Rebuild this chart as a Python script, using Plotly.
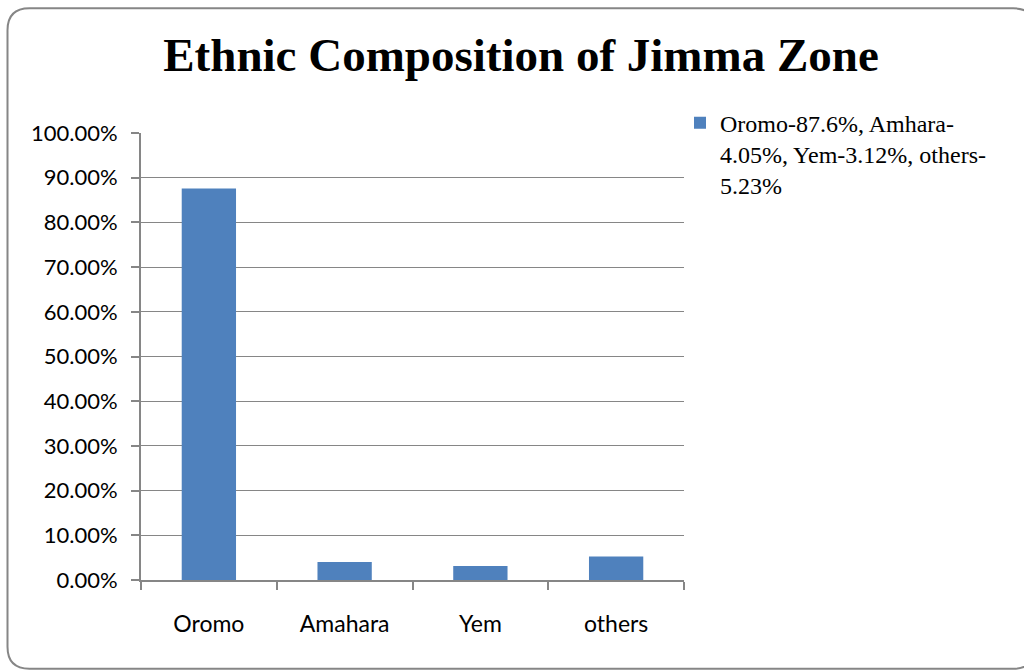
import plotly.graph_objects as go

categories = ["Oromo", "Amahara", "Yem", "others"]
values = [0.876, 0.0405, 0.0312, 0.0523]
series_name = "Oromo-87.6%, Amhara-<br>4.05%, Yem-3.12%, others-<br>5.23%"
title_text = "Ethnic Composition of Jimma Zone"
y_ticks = [i / 10 for i in range(11)]

W, H = 1024, 671
L, R, T, B = 141, 684, 132.5, 580.5
pw, ph = R - L, B - T

def px(x):
    return (x - L) / pw

def py(y):
    return (B - y) / ph

fig = go.Figure()
fig.add_trace(go.Bar(
    x=categories, y=values, name=series_name,
    marker=dict(color="#4F81BD", line=dict(width=0)),
    showlegend=True,
))

# rounded chart border
x0, y0, x1, y1, r = 7.5, 7.5, 1035, 669.5, 22
path = (
    f"M {px(x0)},{py(y0 + r)} Q {px(x0)},{py(y0)} {px(x0 + r)},{py(y0)} "
    f"L {px(x1 - r)},{py(y0)} Q {px(x1)},{py(y0)} {px(x1)},{py(y0 + r)} "
    f"L {px(x1)},{py(y1 - r)} Q {px(x1)},{py(y1)} {px(x1 - r)},{py(y1)} "
    f"L {px(x0 + r)},{py(y1)} Q {px(x0)},{py(y1)} {px(x0)},{py(y1 - r)} Z"
)
fig.add_shape(type="path", path=path, xref="paper", yref="paper",
              line=dict(color="#868686", width=2), layer="above")

fig.update_layout(
    width=W, height=H,
    margin=dict(l=L, r=W - R, t=T, b=H - B, pad=0),
    paper_bgcolor="white", plot_bgcolor="white",
    bargap=0.6,
    title=dict(text=f"<b>{title_text}</b>", x=521 / W, xanchor="center",
               y=1 - 55 / H, yanchor="middle", yref="container",
               font=dict(family="Liberation Serif", size=47, color="black")),
    legend=dict(x=px(680), y=py(100), xanchor="left", yanchor="top",
                valign="top", bgcolor="rgba(0,0,0,0)",
                font=dict(family="Liberation Serif", size=24, color="black"),
                itemwidth=30, tracegroupgap=0),
    xaxis=dict(showline=True, linecolor="#868686", linewidth=2,
               ticks="outside", tickson="boundaries", ticklen=8,
               tickcolor="#868686", tickwidth=2, showgrid=False,
               ticklabelstandoff=22,
               tickfont=dict(family="Lato", size=23, color="black")),
    yaxis=dict(range=[0, 1], tickvals=y_ticks, tickformat=".2%",
               showline=True, linecolor="#868686", linewidth=2,
               ticks="outside", ticklen=8, tickcolor="#868686", tickwidth=2,
               showgrid=True, gridcolor="#868686", gridwidth=1,
               zeroline=False, ticklabelstandoff=9,
               tickfont=dict(family="Lato", size=22, color="black")),
)

fig.write_html("out.html")
